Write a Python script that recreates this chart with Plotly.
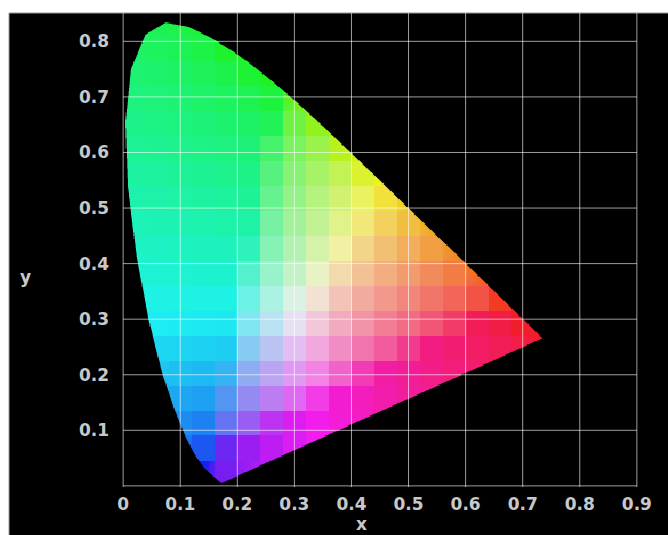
import base64
import struct
import zlib

import numpy as np
import plotly.graph_objects as go

# CIE 1931 2-degree spectral locus, 380-700 nm in 5 nm steps
wavelength_nm = list(range(380, 705, 5))
locus_x = [0.1741, 0.1740, 0.1738, 0.1736, 0.1733, 0.1730, 0.1726, 0.1721, 0.1714, 0.1703,
           0.1689, 0.1669, 0.1644, 0.1611, 0.1566, 0.1510, 0.1440, 0.1355, 0.1241, 0.1096,
           0.0913, 0.0687, 0.0454, 0.0235, 0.0082, 0.0039, 0.0139, 0.0389, 0.0743, 0.1142,
           0.1547, 0.1929, 0.2296, 0.2658, 0.3016, 0.3373, 0.3731, 0.4087, 0.4441, 0.4788,
           0.5125, 0.5448, 0.5752, 0.6029, 0.6270, 0.6482, 0.6658, 0.6801, 0.6915, 0.7006,
           0.7079, 0.7140, 0.7190, 0.7230, 0.7260, 0.7283, 0.7300, 0.7311, 0.7320, 0.7327,
           0.7334, 0.7340, 0.7344, 0.7346, 0.7347]
locus_y = [0.0050, 0.0050, 0.0049, 0.0049, 0.0048, 0.0048, 0.0048, 0.0048, 0.0051, 0.0058,
           0.0069, 0.0086, 0.0109, 0.0138, 0.0177, 0.0227, 0.0297, 0.0399, 0.0578, 0.0868,
           0.1327, 0.2007, 0.2950, 0.4127, 0.5384, 0.6548, 0.7502, 0.8120, 0.8338, 0.8262,
           0.8059, 0.7816, 0.7543, 0.7243, 0.6923, 0.6589, 0.6245, 0.5896, 0.5547, 0.5202,
           0.4866, 0.4544, 0.4242, 0.3965, 0.3725, 0.3514, 0.3340, 0.3197, 0.3083, 0.2993,
           0.2920, 0.2859, 0.2809, 0.2770, 0.2740, 0.2717, 0.2700, 0.2689, 0.2680, 0.2673,
           0.2666, 0.2660, 0.2656, 0.2654, 0.2653]

x_ticks = [0, 0.1, 0.2, 0.3, 0.4, 0.5, 0.6, 0.7, 0.8, 0.9]
x_tick_text = ["0", "0.1", "0.2", "0.3", "0.4", "0.5", "0.6", "0.7", "0.8", "0.9"]
y_ticks = [0.1, 0.2, 0.3, 0.4, 0.5, 0.6, 0.7, 0.8]
y_tick_text = ["0.1", "0.2", "0.3", "0.4", "0.5", "0.6", "0.7", "0.8"]
y_grid = [0.0] + y_ticks

X_RANGE = [-0.002, 0.902]
Y_RANGE = [-0.002, 0.851]
STEP = 0.002           # image pixel size in chromaticity units
BLOCK = (0.04, 0.045)  # size of the flat colour tiles

# display primaries and white point (xy) used to shade the gamut
PRIMARIES = [(0.67, 0.33), (0.27, 0.71), (0.15, 0.05)]
WHITE = (0.3101, 0.3162)
PASTEL = 0.12          # share of white mixed into every tile
BRIGHTNESS = 0.95


def rgb_to_xyz_matrix(primaries, white):
    cols = np.array([[px / py, 1.0, (1 - px - py) / py] for px, py in primaries]).T
    wx, wy = white
    w = np.array([wx / wy, 1.0, (1 - wx - wy) / wy])
    return cols * np.linalg.solve(cols, w)


XYZ_TO_RGB = np.linalg.inv(rgb_to_xyz_matrix(PRIMARIES, WHITE))


def points_inside(px, py, vx, vy):
    """Even-odd ray casting test against the closed locus polygon."""
    inside = np.zeros(px.shape, dtype=bool)
    n = len(vx)
    j = n - 1
    for i in range(n):
        xi, yi, xj, yj = vx[i], vy[i], vx[j], vy[j]
        if yi != yj:
            crosses = ((yi > py) != (yj > py)) & (px < (xj - xi) * (py - yi) / (yj - yi) + xi)
            inside ^= crosses
        j = i
    return inside


def chromaticity_to_rgb(x, y):
    y = np.maximum(y, 1e-4)
    xyz = np.stack([x / y, np.ones_like(x), (1.0 - x - y) / y], axis=-1)
    rgb = np.clip(xyz @ XYZ_TO_RGB.T, 0.0, None)
    rgb = rgb / np.maximum(rgb.max(axis=-1, keepdims=True), 1e-9)
    rgb = np.where(rgb <= 0.0031308, 12.92 * rgb, 1.055 * rgb ** (1 / 2.4) - 0.055)
    return (rgb * (1 - PASTEL) + PASTEL) * BRIGHTNESS


def png_data_uri(rgba):
    h, w, _ = rgba.shape
    raw = b"".join(b"\x00" + rgba[r].tobytes() for r in range(h))

    def chunk(tag, data):
        body = tag + data
        return struct.pack(">I", len(data)) + body + struct.pack(">I", zlib.crc32(body) & 0xFFFFFFFF)

    png = (b"\x89PNG\r\n\x1a\n"
           + chunk(b"IHDR", struct.pack(">IIBBBBB", w, h, 8, 6, 0, 0, 0))
           + chunk(b"IDAT", zlib.compress(raw, 9))
           + chunk(b"IEND", b""))
    return "data:image/png;base64," + base64.b64encode(png).decode()


# pixel centres of the gamut image (rows ordered bottom to top)
ncols = int(round(0.9 / STEP))
nrows = int(np.ceil(Y_RANGE[1] / STEP))
cx = (np.arange(ncols) + 0.5) * STEP
cy = (np.arange(nrows) + 0.5) * STEP
gx, gy = np.meshgrid(cx, cy)

# anti-aliased coverage from a 3x3 supersample
vx = np.array(locus_x)
vy = np.array(locus_y)
coverage = np.zeros(gx.shape)
offsets = (np.arange(3) - 1) * STEP / 3
for ox in offsets:
    for oy in offsets:
        coverage += points_inside(gx + ox, gy + oy, vx, vy)
coverage /= 9.0

# flat colour tiles, clamped into the gamut so edge tiles stay saturated
tx = (np.floor(gx / BLOCK[0]) + 0.5) * BLOCK[0]
ty = (np.floor(gy / BLOCK[1]) + 0.5) * BLOCK[1]
tile_in = points_inside(tx, ty, vx, vy)
tx = np.where(tile_in, tx, gx)
ty = np.where(tile_in, ty, gy)
rgb = chromaticity_to_rgb(tx, ty)

rgba = np.zeros(gx.shape + (4,), dtype=np.uint8)
rgba[..., :3] = np.clip(rgb * 255 + 0.5, 0, 255).astype(np.uint8)
rgba[..., 3] = np.clip(coverage * 255 + 0.5, 0, 255).astype(np.uint8)

fig = go.Figure()
fig.add_trace(go.Image(
    source=png_data_uri(rgba),
    x0=cx[0], dx=STEP,
    y0=cy[-1], dy=-STEP,
    hoverinfo="skip",
))

grid_style = dict(color="rgba(255,255,255,0.62)", width=1)
for v in x_ticks:
    fig.add_shape(type="line", layer="above", xref="x", x0=v, x1=v,
                  yref="y domain", y0=0, y1=1, line=grid_style)
for v in y_grid:
    fig.add_shape(type="line", layer="above", yref="y", y0=v, y1=v,
                  xref="x", x0=x_ticks[0], x1=x_ticks[-1], line=grid_style)

# black backdrop with a thin frame
fig.add_shape(type="rect", layer="below", xref="paper", yref="paper",
              x0=-113 / 516, x1=1.1, y0=-0.2, y1=1.0,
              fillcolor="black", line=dict(color="#9a9a9a", width=1))

tick_font = dict(family="DejaVu Sans", size=17, color="#c8c8c8", weight="bold")
fig.add_annotation(text="x", xref="x", yref="paper", x=0.418, y=-37 / 474,
                   showarrow=False, font=tick_font, xanchor="center", yanchor="middle")
fig.add_annotation(text="y", xref="paper", yref="paper", x=-97 / 516, y=(487 - 277) / 474,
                   showarrow=False, font=tick_font, xanchor="center", yanchor="middle")

fig.update_layout(
    width=668, height=535,
    margin=dict(l=122, r=30, t=13, b=48),
    paper_bgcolor="white",
    plot_bgcolor="black",
    showlegend=False,
    xaxis=dict(range=X_RANGE, autorange=False, tickvals=x_ticks, ticktext=x_tick_text,
               showgrid=False, zeroline=False, showline=False, ticks="",
               tickfont=tick_font, ticklabelstandoff=5, constrain="range"),
    yaxis=dict(range=Y_RANGE, autorange=False, tickvals=y_ticks, ticktext=y_tick_text,
               showgrid=False, zeroline=False, showline=False, ticks="",
               tickfont=tick_font, ticklabelstandoff=12, scaleanchor=False, constrain="range"),
)

fig.write_html("out.html")
